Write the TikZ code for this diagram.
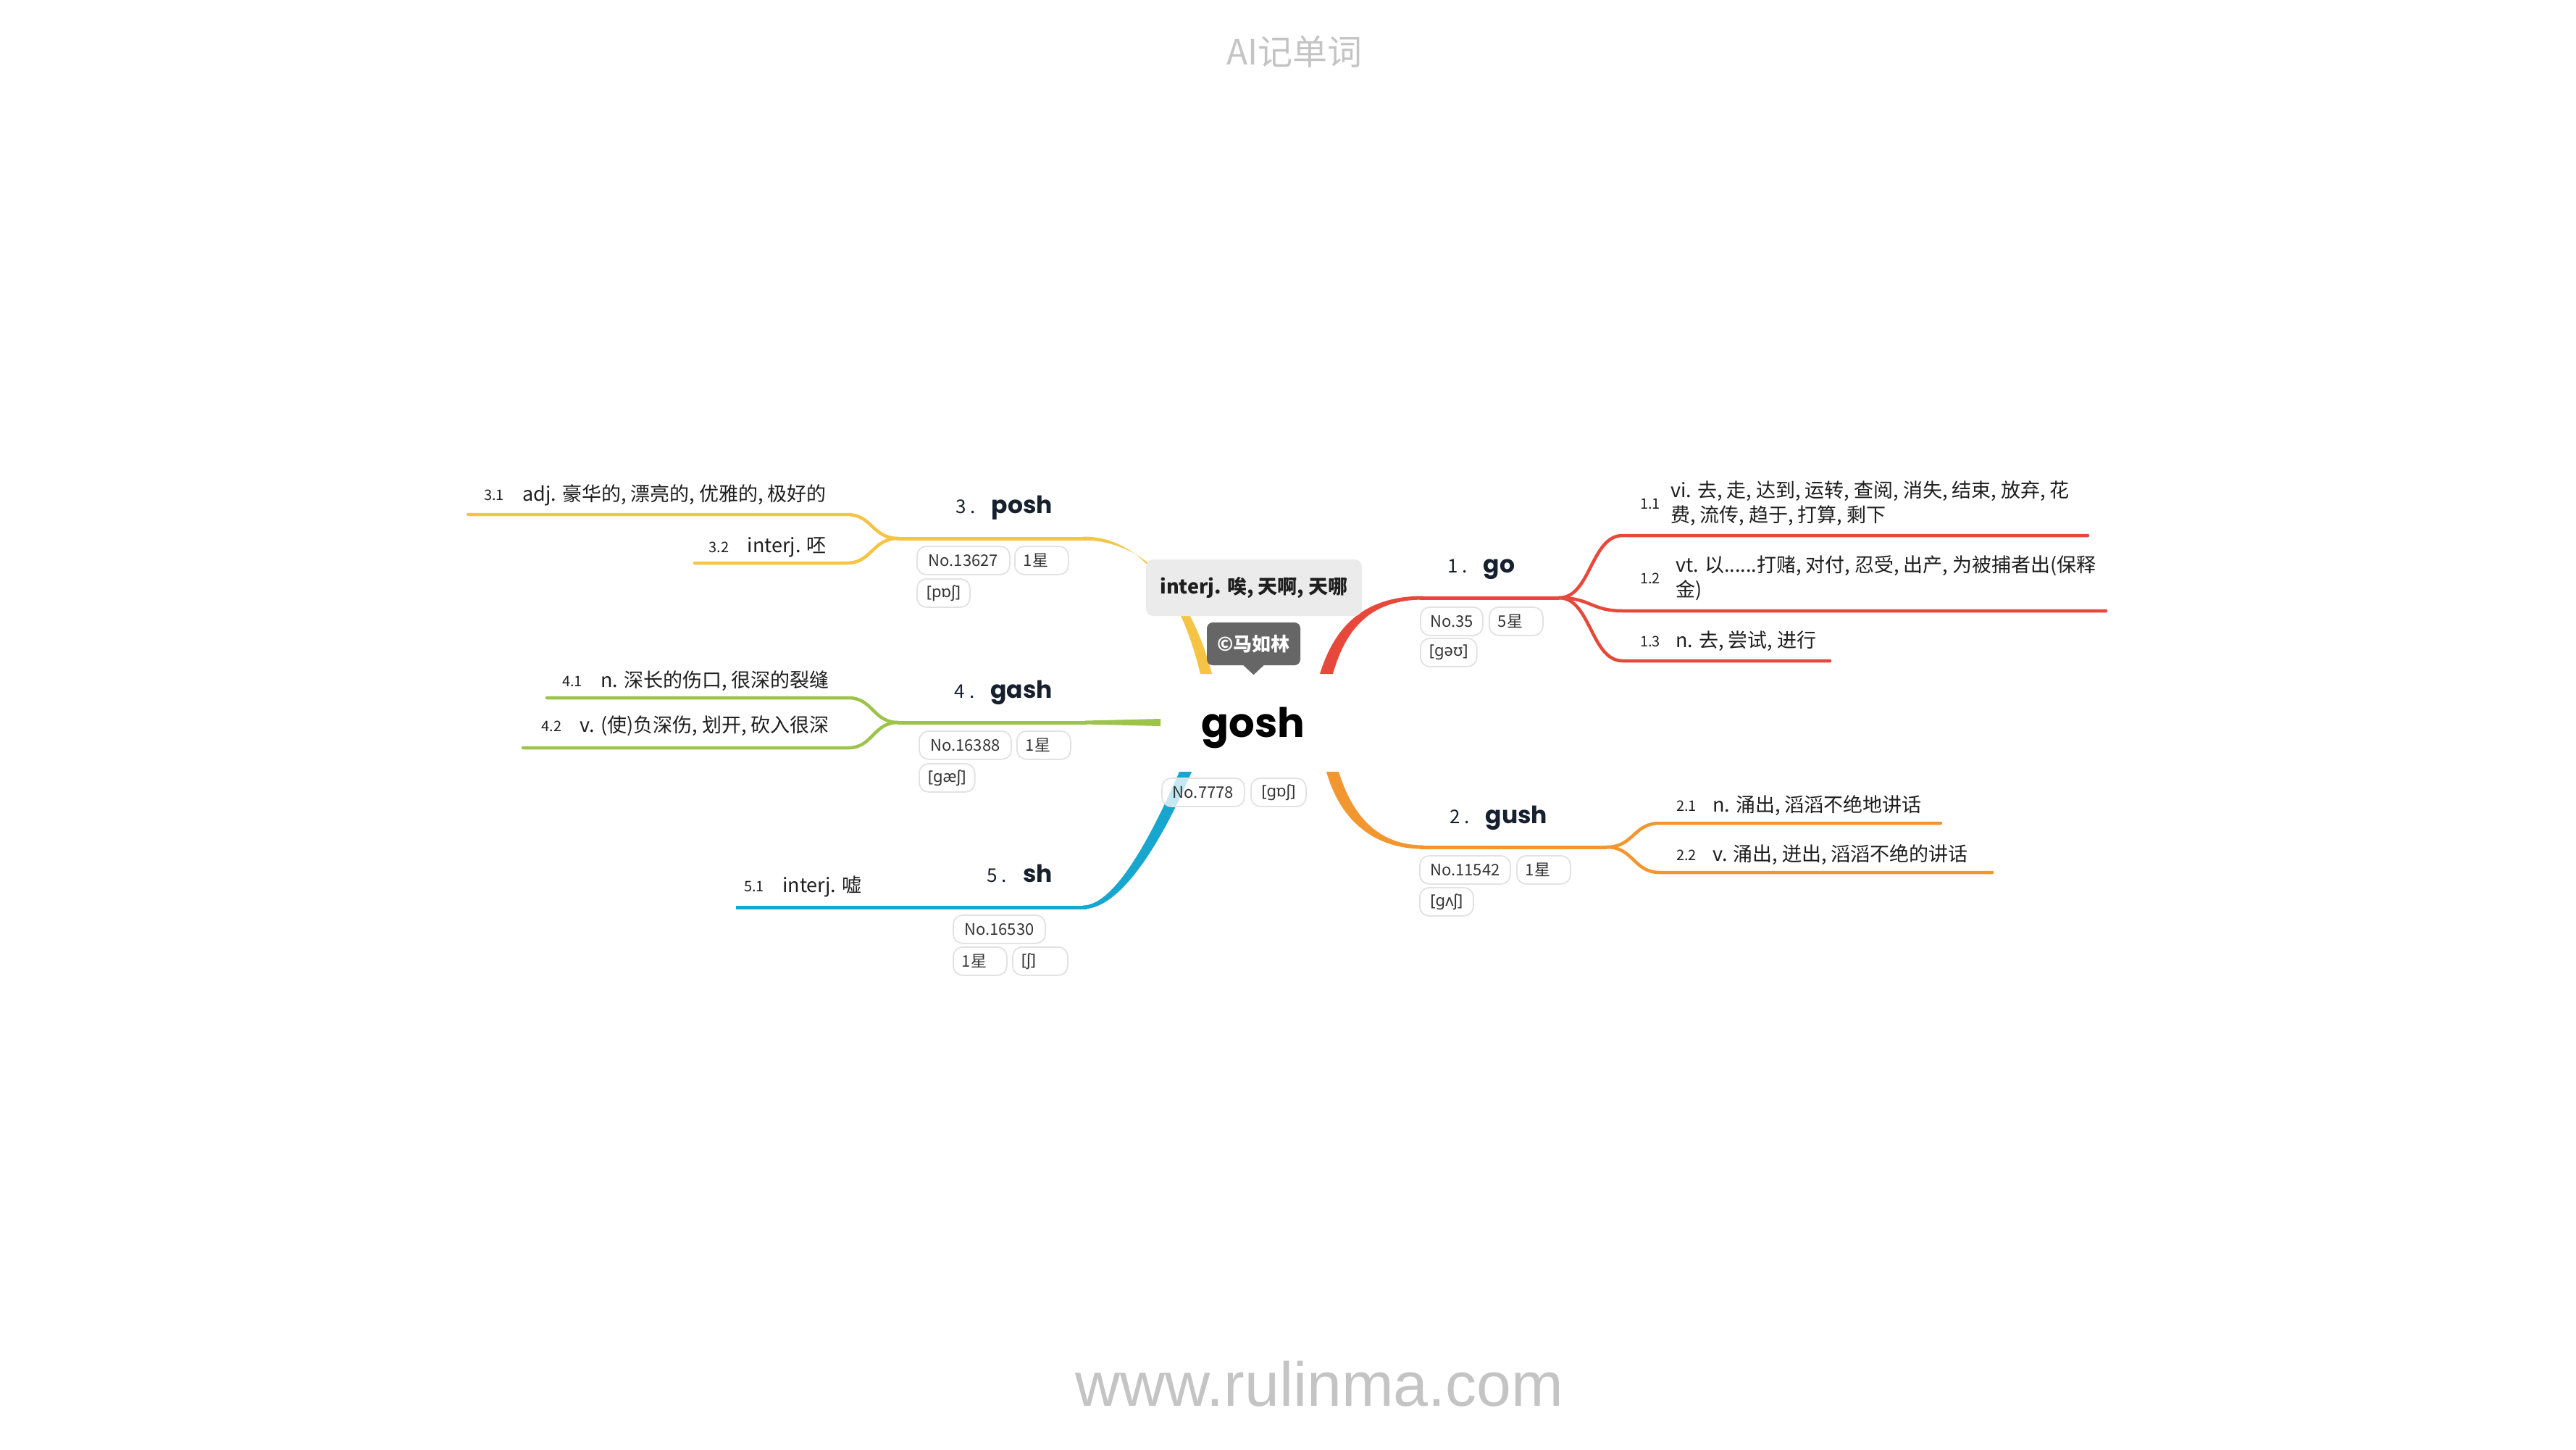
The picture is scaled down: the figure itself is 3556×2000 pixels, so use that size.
\documentclass[tikz,border=0pt]{standalone}
\usepackage{fontspec}
\setmainfont{Noto Sans CJK SC}
\newfontfamily\pop{Poppins}
\newfontfamily\ipafont{Noto Sans}
\newfontfamily\webfont{Liberation Sans}
\definecolor{cred}{HTML}{E8473B}
\definecolor{corange}{HTML}{F2962F}
\definecolor{cyellow}{HTML}{F6C445}
\definecolor{cgreen}{HTML}{9DC44A}
\definecolor{cblue}{HTML}{17A6CE}
\definecolor{tagline}{HTML}{E2E2E2}
\definecolor{notebg}{HTML}{EBEBEB}
\definecolor{tipbg}{HTML}{666666}
\definecolor{wm}{HTML}{C4C4C4}
\definecolor{ink}{HTML}{1E1E1E}
\definecolor{navy}{HTML}{16202E}
\definecolor{tagink}{HTML}{333333}
\begin{document}
\begin{tikzpicture}[x=1pt,y=-1pt,
  defn/.style={font=\fontsize{27}{34}\selectfont, text=ink, align=left, inner sep=0pt},
  num/.style={font=\fontsize{20}{23}\selectfont, text=ink, inner sep=0pt},
  tag/.style={draw=tagline, line width=1.8pt, rounded corners=13pt, fill=white, fill opacity=.75, text opacity=1,
    minimum height=39pt, inner xsep=12pt, inner ysep=0pt, anchor=north west,
    font=\fontsize{22}{26}\selectfont, text=tagink},
  stag/.style={tag, text width=50pt, align=left},
  ipa/.style={tag, font=\ipafont\fontsize{22}{26}\selectfont},
  ttl/.style={inner sep=0pt, text=navy},
  lw/.style={line width=4.5pt, line cap=round}]
\fill[white] (0,0) rectangle (3556,2000);
\useasboundingbox (0,0) rectangle (3556,2000);

% watermarks
\node[text=wm, font=\fontsize{48}{56}\selectfont, inner sep=0pt] (wmtop) at (1787,71) {AI记单词};
\node[text=wm, font=\webfont\fontsize{86}{96}\selectfont, inner sep=0pt, anchor=base] (wmbot) at (1821,1940) {www.rulinma.com};

% named fork coordinates
\coordinate (fR) at (2152,825);
\coordinate (fO) at (2218,1169);
\coordinate (fY) at (1240,743);
\coordinate (fG) at (1240,997);
\coordinate (eB) at (1016,1252);

% ---- red (go)
\fill[cred] (1822,930) .. controls (1843,862) and (1885,822.5) .. (1965,822.5) -- (1965,827.5) .. controls (1893,827.5) and (1858,866) .. (1840,930) -- cycle;
\draw[cred, line width=5pt] (1960,825) -- (fR);
\draw[cred, lw] (fR) .. controls (2196,825) and (2196,739) .. (2240,739) -- (2882,739);
\draw[cred, lw] (fR) .. controls (2196,825) and (2196,843) .. (2240,843) -- (2907,843);
\draw[cred, lw] (fR) .. controls (2196,825) and (2196,912) .. (2240,912) -- (2526,912);

% ---- orange (gush)
\fill[corange] (1831,1065) .. controls (1848,1125) and (1890,1171.5) .. (1965,1171.5) -- (1965,1166.5) .. controls (1898,1166.5) and (1865,1120) .. (1848,1065) -- cycle;
\draw[corange, line width=5pt] (1960,1169) -- (fO);
\draw[corange, lw] (fO) .. controls (2255,1169) and (2255,1136) .. (2291,1136) -- (2679,1136);
\draw[corange, lw] (fO) .. controls (2255,1169) and (2255,1204) .. (2291,1204) -- (2750,1204);

% ---- yellow (posh)
\fill[cyellow] (1657,930) .. controls (1634,835) and (1585,740.5) .. (1495,740.5) -- (1495,745.5) .. controls (1592,745.5) and (1648,835) .. (1673,930) -- cycle;
\draw[cyellow, line width=5pt] (1500,743) -- (fY);
\draw[cyellow, lw] (fY) .. controls (1204,743) and (1204,710) .. (1169,710) -- (646,710);
\draw[cyellow, lw] (fY) .. controls (1204,743) and (1204,777) .. (1169,777) -- (959,777);

% ---- green (gash)
\fill[cgreen] (1498,994.5) -- (1602,992) -- (1602,1002) -- (1498,999.5) -- cycle;
\draw[cgreen, line width=5pt] (1500,997) -- (fG);
\draw[cgreen, lw] (fG) .. controls (1205,997) and (1205,963) .. (1171,963) -- (755,963);
\draw[cgreen, lw] (fG) .. controls (1205,997) and (1205,1032) .. (1171,1032) -- (722,1032);

% ---- blue (sh)
\fill[cblue] (1628,1065) .. controls (1592,1148) and (1540,1249.5) .. (1495,1249.5) -- (1495,1254.5) .. controls (1550,1254.5) and (1608,1152) .. (1645,1065) -- cycle;
\draw[cblue, line width=5pt] (1500,1252) -- (eB);

% ---- central topic
\node[inner sep=0pt, anchor=base, text=black] (root) at (1730,1017) {\pop\bfseries\fontsize{56}{62}\selectfont gosh};
\node[fill=notebg, rounded corners=10pt, minimum width=298pt, minimum height=78pt, inner sep=0pt,
  font=\bfseries\fontsize{27}{32}\selectfont, text=ink] (note) at (1731,811) {interj. 唉, 天啊, 天哪};
\node[fill=tipbg, rounded corners=8pt, minimum width=129pt, minimum height=59pt, inner sep=0pt,
  text=white, font=\bfseries\fontsize{26}{30}\selectfont] (tip) at (1730.5,888.5) {©马如林};
\fill[tipbg] ([xshift=-14pt]tip.south) -- ([yshift=-13pt]tip.south) -- ([xshift=14pt]tip.south) -- cycle;
\node[tag, minimum width=114pt] (t0a) at (1603,1073) {No.7778};
\node[ipa, minimum width=76pt] (t0b) at (1726,1073) {[gɒʃ]};

% ---- branch titles
\node[ttl, anchor=base west] (b1) at (1998,790) {\fontsize{26}{30}\selectfont 1 .\hspace{22pt}{\pop\bfseries\fontsize{33}{36}\selectfont go}};
\node[ttl, anchor=base west] (b2) at (2001,1136) {\fontsize{26}{30}\selectfont 2 .\hspace{22pt}{\pop\bfseries\fontsize{33}{36}\selectfont gush}};
\node[ttl, anchor=base east] (b3) at (1453,708) {\fontsize{26}{30}\selectfont 3 .\hspace{22pt}{\pop\bfseries\fontsize{33}{36}\selectfont posh}};
\node[ttl, anchor=base east] (b4) at (1453,963) {\fontsize{26}{30}\selectfont 4 .\hspace{22pt}{\pop\bfseries\fontsize{33}{36}\selectfont gash}};
\node[ttl, anchor=base east] (b5) at (1453,1217) {\fontsize{26}{30}\selectfont 5 .\hspace{22pt}{\pop\bfseries\fontsize{33}{36}\selectfont sh}};

% ---- tags
\node[tag, minimum width=86pt] (t1a) at (1960,837) {No.35};
\node[stag] (t1b) at (2055,837) {5星};
\node[ipa, minimum width=75pt] (t1c) at (1960,880) {[gəʊ]};

\node[tag, minimum width=125pt] (t2a) at (1959,1180) {No.11542};
\node[stag] (t2b) at (2093,1180) {1星};
\node[ipa, minimum width=74pt] (t2c) at (1959,1224) {[gʌʃ]};

\node[tag, minimum width=128pt] (t3a) at (1265,753) {No.13627};
\node[stag] (t3b) at (1400,753) {1星};
\node[ipa, minimum width=73pt] (t3c) at (1265,798) {[pɒʃ]};

\node[tag, minimum width=127pt] (t4a) at (1268,1008) {No.16388};
\node[stag] (t4b) at (1403,1008) {1星};
\node[ipa, minimum width=75pt] (t4c) at (1268,1053) {[gæʃ]};

\node[tag, minimum width=127pt] (t5a) at (1315,1262) {No.16530};
\node[stag] (t5b) at (1315,1306) {1星};
\node[ipa, minimum width=76pt, text width=52pt, align=left] (t5c) at (1397,1306) {[ʃ]};

% ---- definitions
\node[num, anchor=west] (n11) at (2264,695) {1.1};
\node[defn, anchor=west] (d11) at (2306,695) {vi. 去, 走, 达到, 运转, 查阅, 消失, 结束, 放弃, 花\\费, 流传, 趋于, 打算, 剩下};
\node[num, anchor=west] (n12) at (2264,798) {1.2};
\node[defn, anchor=west] (d12) at (2313,798) {vt. 以......打赌, 对付, 忍受, 出产, 为被捕者出(保释\\金)};
\node[num, anchor=west] (n13) at (2264,885) {1.3};
\node[defn, anchor=west] (d13) at (2313,885) {n. 去, 尝试, 进行};

\node[num, anchor=west] (n21) at (2314,1112) {2.1};
\node[defn, anchor=west] (d21) at (2364,1112) {n. 涌出, 滔滔不绝地讲话};
\node[num, anchor=west] (n22) at (2314,1180) {2.2};
\node[defn, anchor=west] (d22) at (2364,1180) {v. 涌出, 迸出, 滔滔不绝的讲话};

\node[defn, anchor=east] (d31) at (1141,683) {adj. 豪华的, 漂亮的, 优雅的, 极好的};
\node[num, anchor=east, xshift=-25pt] (n31) at (d31.west) {3.1};
\node[defn, anchor=east] (d32) at (1141,755) {interj. 呸};
\node[num, anchor=east, xshift=-25pt] (n32) at (d32.west) {3.2};

\node[defn, anchor=east] (d41) at (1145,940) {n. 深长的伤口, 很深的裂缝};
\node[num, anchor=east, xshift=-25pt] (n41) at (d41.west) {4.1};
\node[defn, anchor=east] (d42) at (1145,1002) {v. (使)负深伤, 划开, 砍入很深};
\node[num, anchor=east, xshift=-25pt] (n42) at (d42.west) {4.2};

\node[defn, anchor=west] (d51) at (1080,1223) {interj. 嘘};
\node[num, anchor=east, xshift=-25pt] (n51) at (d51.west) {5.1};
\end{tikzpicture}
\end{document}
